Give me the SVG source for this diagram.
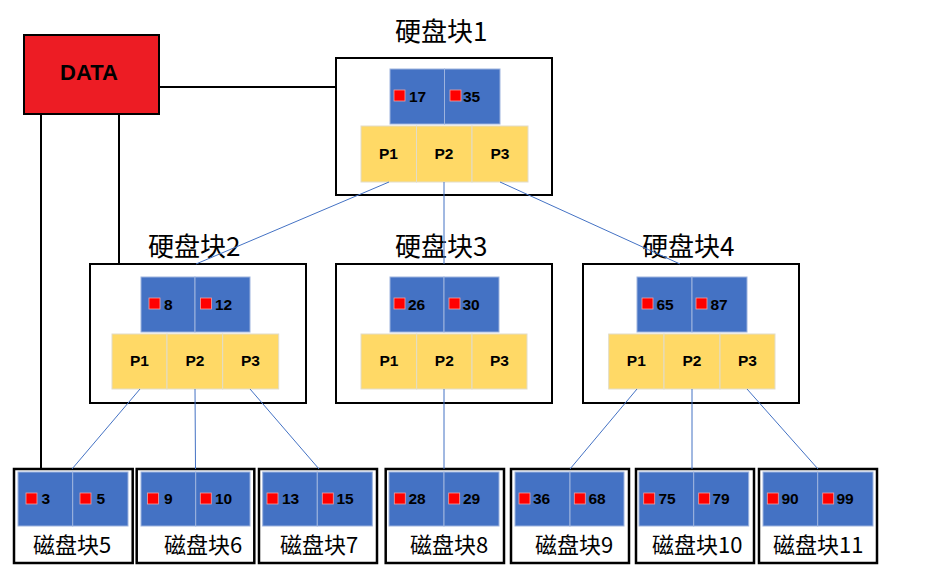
<svg xmlns="http://www.w3.org/2000/svg" width="927" height="580" viewBox="0 0 927 580">
<style>
.box{fill:#fff;stroke:#000;stroke-width:2}
.bbox{fill:#fff;stroke:#000;stroke-width:2.5}
.blue{fill:#4472C4;stroke:#9DB3DE;stroke-width:1}
.yel{fill:#FFD966;stroke:#E2DCC8;stroke-width:1}
.sq{fill:#FF0000;stroke:#F2A0A0;stroke-width:0.8}
.num{font-family:"Liberation Sans",Arial,sans-serif;font-weight:bold;font-size:15.5px;fill:#000}
.p{font-family:"Liberation Sans",Arial,sans-serif;font-weight:bold;font-size:15.5px;fill:#000;text-anchor:middle}
.h{font-family:"Noto Sans CJK SC",sans-serif;font-size:26px;fill:#000}
.c{font-family:"Noto Sans CJK SC",sans-serif;font-size:22px;fill:#000}
.lk{stroke:#4472C4;stroke-width:1;fill:none}
.bl{stroke:#000;stroke-width:2;fill:none}
</style>
<g id="data">
<rect x="24" y="35" width="135" height="79" fill="#ED1C24" stroke="#000" stroke-width="2"/>
<text x="89" y="80" font-family="'Liberation Sans',Arial,sans-serif" font-weight="bold" font-size="22" text-anchor="middle">DATA</text>
</g>
<g id="disk1">
<text class="h" x="395" y="41">硬盘块1</text>
<rect class="box" x="336" y="58" width="216" height="137"/>
<rect class="blue" x="390" y="69" width="54.5" height="55"/>
<rect class="blue" x="444.5" y="69" width="55.5" height="55"/>
<rect class="yel" x="361" y="126" width="55.5" height="56"/>
<rect class="yel" x="416.5" y="126" width="55.5" height="56"/>
<rect class="yel" x="472" y="126" width="56" height="56"/>
<rect class="sq" x="394" y="90" width="11" height="11"/><text class="num" x="409" y="102">17</text>
<rect class="sq" x="450" y="90" width="11" height="11"/><text class="num" x="463" y="102">35</text>
<text class="p" x="388.5" y="159">P1</text><text class="p" x="444" y="159">P2</text><text class="p" x="500" y="159">P3</text>
</g>
<g id="disk2">
<text class="h" x="148" y="256">硬盘块2</text>
<rect class="box" x="90" y="264" width="216" height="139"/>
<rect class="blue" x="141" y="277" width="54" height="55"/>
<rect class="blue" x="195" y="277" width="55" height="55"/>
<rect class="yel" x="112" y="334" width="55" height="55"/>
<rect class="yel" x="167" y="334" width="55.7" height="55"/>
<rect class="yel" x="222.7" y="334" width="56" height="55"/>
<rect class="sq" x="149" y="298" width="11" height="11"/><text class="num" x="164" y="310">8</text>
<rect class="sq" x="200.5" y="298" width="11" height="11"/><text class="num" x="215" y="310">12</text>
<text class="p" x="139.5" y="366">P1</text><text class="p" x="195" y="366">P2</text><text class="p" x="250.5" y="366">P3</text>
</g>
<g id="disk3">
<text class="h" x="395" y="256">硬盘块3</text>
<rect class="box" x="336" y="264" width="216" height="139"/>
<rect class="blue" x="390" y="277" width="54" height="55"/>
<rect class="blue" x="444" y="277" width="55" height="55"/>
<rect class="yel" x="361" y="334" width="55.7" height="55"/>
<rect class="yel" x="416.7" y="334" width="55.3" height="55"/>
<rect class="yel" x="472" y="334" width="55" height="55"/>
<rect class="sq" x="394" y="298" width="11" height="11"/><text class="num" x="408" y="310">26</text>
<rect class="sq" x="449" y="298" width="11" height="11"/><text class="num" x="462.5" y="310">30</text>
<text class="p" x="389" y="366">P1</text><text class="p" x="444.3" y="366">P2</text><text class="p" x="499.5" y="366">P3</text>
</g>
<g id="disk4">
<text class="h" x="642" y="256">硬盘块4</text>
<rect class="box" x="583" y="264" width="216" height="139"/>
<rect class="blue" x="637" y="277" width="55" height="55"/>
<rect class="blue" x="692" y="277" width="55" height="55"/>
<rect class="yel" x="608.7" y="334" width="55.3" height="55"/>
<rect class="yel" x="664" y="334" width="56" height="55"/>
<rect class="yel" x="720" y="334" width="55" height="55"/>
<rect class="sq" x="642" y="298" width="11" height="11"/><text class="num" x="656.5" y="310">65</text>
<rect class="sq" x="696" y="298" width="11" height="11"/><text class="num" x="710.5" y="310">87</text>
<text class="p" x="636.3" y="366">P1</text><text class="p" x="692" y="366">P2</text><text class="p" x="747.5" y="366">P3</text>
</g>
<g id="block5">
<rect class="bbox" x="14" y="469" width="118.7" height="94"/>
<rect class="blue" x="18" y="472" width="54.7" height="54"/>
<rect class="blue" x="72.7" y="472" width="55.3" height="54"/>
<rect class="sq" x="26" y="493" width="11" height="11"/><text class="num" x="41.5" y="504">3</text>
<rect class="sq" x="80" y="493" width="11" height="11"/><text class="num" x="96.5" y="504">5</text>
<text class="c" x="33" y="553">磁盘块5</text>
</g>
<g id="block6">
<rect class="bbox" x="136.7" y="469" width="117.6" height="94"/>
<rect class="blue" x="141" y="472" width="54.7" height="54"/>
<rect class="blue" x="195.7" y="472" width="54.3" height="54"/>
<rect class="sq" x="147.5" y="493" width="11" height="11"/><text class="num" x="164" y="504">9</text>
<rect class="sq" x="200.3" y="493" width="11" height="11"/><text class="num" x="215" y="504">10</text>
<text class="c" x="164" y="553">磁盘块6</text>
</g>
<g id="block7">
<rect class="bbox" x="259" y="469" width="118" height="94"/>
<rect class="blue" x="262.7" y="472" width="54.6" height="54"/>
<rect class="blue" x="317.3" y="472" width="55" height="54"/>
<rect class="sq" x="267" y="493" width="11" height="11"/><text class="num" x="282" y="504">13</text>
<rect class="sq" x="322.3" y="493" width="11" height="11"/><text class="num" x="336.5" y="504">15</text>
<text class="c" x="280" y="553">磁盘块7</text>
</g>
<g id="block8">
<rect class="bbox" x="385.7" y="469" width="118.3" height="94"/>
<rect class="blue" x="389" y="472" width="55" height="54"/>
<rect class="blue" x="444" y="472" width="55" height="54"/>
<rect class="sq" x="394.3" y="493" width="11" height="11"/><text class="num" x="408.5" y="504">28</text>
<rect class="sq" x="448.7" y="493" width="11" height="11"/><text class="num" x="463" y="504">29</text>
<text class="c" x="410" y="553">磁盘块8</text>
</g>
<g id="block9">
<rect class="bbox" x="511" y="469" width="118" height="94"/>
<rect class="blue" x="515" y="472" width="55" height="54"/>
<rect class="blue" x="570" y="472" width="54" height="54"/>
<rect class="sq" x="519" y="493" width="11" height="11"/><text class="num" x="533" y="504">36</text>
<rect class="sq" x="574.3" y="493" width="11" height="11"/><text class="num" x="588.5" y="504">68</text>
<text class="c" x="535" y="553">磁盘块9</text>
</g>
<g id="block10">
<rect class="bbox" x="636" y="469" width="118" height="94"/>
<rect class="blue" x="639" y="472" width="54.7" height="54"/>
<rect class="blue" x="693.7" y="472" width="55" height="54"/>
<rect class="sq" x="643.7" y="493" width="11" height="11"/><text class="num" x="658.5" y="504">75</text>
<rect class="sq" x="698.7" y="493" width="11" height="11"/><text class="num" x="712.5" y="504">79</text>
<text class="c" x="652" y="553">磁盘块10</text>
</g>
<g id="block11">
<rect class="bbox" x="759" y="469" width="118" height="94"/>
<rect class="blue" x="763" y="472" width="54.7" height="54"/>
<rect class="blue" x="817.7" y="472" width="55.3" height="54"/>
<rect class="sq" x="767.3" y="493" width="11" height="11"/><text class="num" x="781.5" y="504">90</text>
<rect class="sq" x="822.7" y="493" width="11" height="11"/><text class="num" x="836.5" y="504">99</text>
<text class="c" x="773" y="553">磁盘块11</text>
</g>
<g id="connectors">
<line class="bl" x1="159" y1="87" x2="336" y2="87"/>
<line class="bl" x1="41" y1="114" x2="41" y2="468"/>
<line class="bl" x1="119" y1="114" x2="119" y2="264"/>
<line class="lk" x1="389" y1="182" x2="196" y2="264"/>
<line class="lk" x1="444" y1="182" x2="444" y2="264"/>
<line class="lk" x1="500" y1="182" x2="680" y2="264"/>
<line class="lk" x1="140" y1="389" x2="72" y2="469"/>
<line class="lk" x1="195" y1="389" x2="195.5" y2="469"/>
<line class="lk" x1="250" y1="389" x2="319" y2="469"/>
<line class="lk" x1="444" y1="389" x2="444" y2="469"/>
<line class="lk" x1="637" y1="389" x2="570" y2="469"/>
<line class="lk" x1="692" y1="389" x2="692" y2="469"/>
<line class="lk" x1="747" y1="389" x2="818" y2="469"/>
</g>
</svg>
